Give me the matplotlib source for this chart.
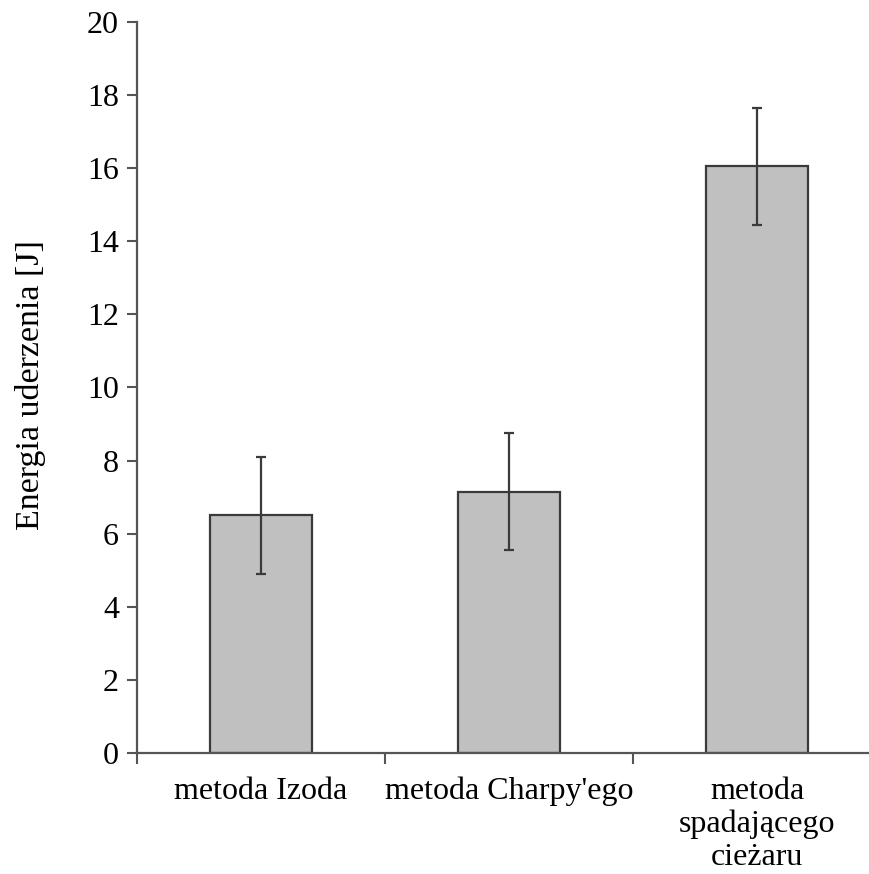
import matplotlib
matplotlib.use("Agg")
import matplotlib.pyplot as plt
import numpy as np

categories = ["metoda Izoda", "metoda Charpy'ego", "metoda\nspadającego\ncieżaru"]
values = [6.5, 7.15, 16.05]
errors = [1.6, 1.6, 1.6]
yticks = [0, 2, 4, 6, 8, 10, 12, 14, 16, 18, 20]

plt.rcParams['font.family'] = ['Liberation Serif', 'DejaVu Serif']

fig = plt.figure(figsize=(8.69, 8.74), dpi=100)
ax = fig.add_axes([137/869, 121/874, (881-137)/869, (753-22)/874])

x = np.arange(len(categories))
ax.bar(x, values, width=0.41, color='#c0c0c0', edgecolor='#3a3a3a', linewidth=1.6, zorder=2)
ax.errorbar(x, values, yerr=errors, fmt='none', ecolor='#3a3a3a', elinewidth=1.6,
            capsize=3.6, capthick=1.6, zorder=3)

ax.set_xlim(-0.5, 2.5)
ax.set_ylim(0, 20)
ax.set_yticks(yticks)
ax.set_yticklabels([str(t) for t in yticks], fontsize=23)

ax.set_xticks([-0.5, 0.5, 1.5, 2.5])
ax.set_xticklabels([])
ax.set_xticks(x, minor=True)
ax.set_xticklabels(categories, minor=True, fontsize=23, linespacing=1.17)
ax.tick_params(axis='x', which='minor', length=0, pad=17)
ax.tick_params(axis='x', which='major', length=8, width=1.5, color='#555555', direction='out')
ax.tick_params(axis='y', length=7, width=1.5, color='#555555', direction='out', pad=6)

for s in ['top', 'right']:
    ax.spines[s].set_visible(False)
for s in ['left', 'bottom']:
    ax.spines[s].set_color('#555555')
    ax.spines[s].set_linewidth(1.6)

fig.text(31/869, 1 - 385/874, "Energia uderzenia [J]", rotation=90, fontsize=24.5,
         ha='center', va='center')

fig.savefig("out.png", dpi=100)
